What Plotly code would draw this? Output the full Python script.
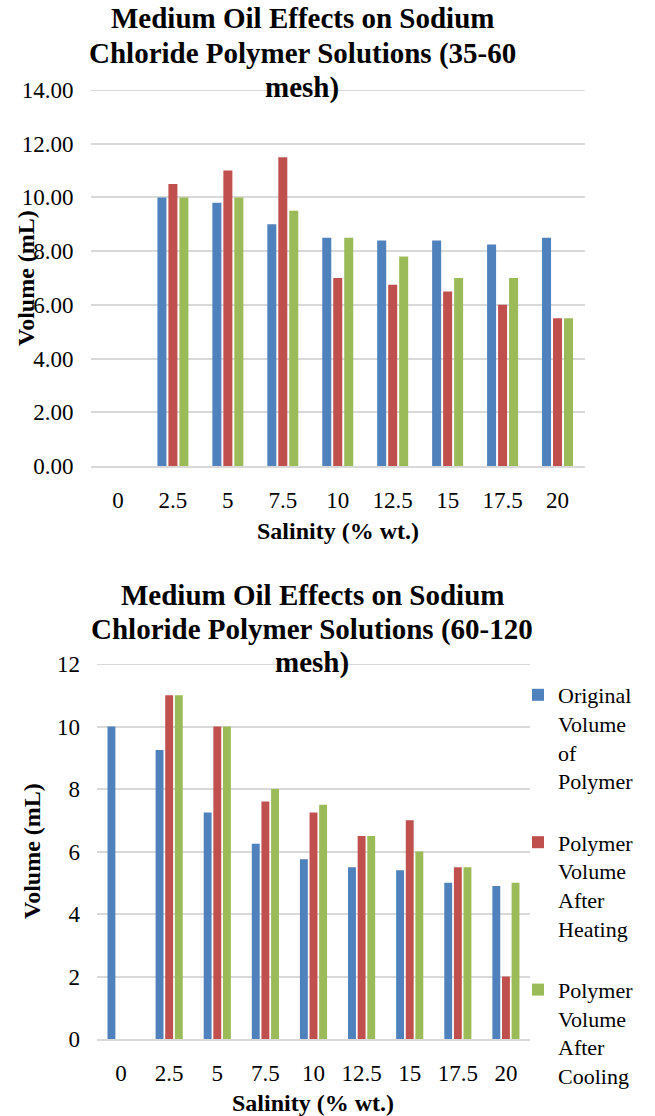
import plotly.graph_objects as go

W, H = 655, 1116

salinity = ["0", "2.5", "5", "7.5", "10", "12.5", "15", "17.5", "20"]
series_names = ["Original<br>Volume<br>of<br>Polymer",
                "Polymer<br>Volume<br>After<br>Heating",
                "Polymer<br>Volume<br>After<br>Cooling"]
colors = ["#4F81BD", "#C0504D", "#9BBB59"]

# 35-60 mesh
top_original = [None, 10.0, 9.8, 9.0, 8.5, 8.4, 8.4, 8.25, 8.5]
top_heating = [None, 10.5, 11.0, 11.5, 7.0, 6.75, 6.5, 6.0, 5.5]
top_cooling = [None, 10.0, 10.0, 9.5, 8.5, 7.8, 7.0, 7.0, 5.5]
top_ymax = 14

# 60-120 mesh
bot_original = [10.0, 9.25, 7.25, 6.25, 5.75, 5.5, 5.4, 5.0, 4.9]
bot_heating = [None, 11.0, 10.0, 7.6, 7.25, 6.5, 7.0, 5.5, 2.0]
bot_cooling = [None, 11.0, 10.0, 8.0, 7.5, 6.5, 6.0, 5.5, 5.0]
bot_ymax = 12

top_title_lines = ["Medium Oil Effects on Sodium",
                   "Chloride Polymer Solutions (35-60",
                   "mesh)"]
bot_title_lines = ["Medium Oil Effects on Sodium",
                   "Chloride Polymer Solutions (60-120",
                   "mesh)"]
x_title = "Salinity (% wt.)"
y_title = "Volume (mL)"

FONT = "Liberation Serif"

def px(x):
    return x / W

def py(y):
    return 1 - y / H

fig = go.Figure()

for vals, name, col in zip([top_original, top_heating, top_cooling], series_names, colors):
    fig.add_trace(go.Bar(x=salinity, y=vals, name=name, marker=dict(color=col, line=dict(width=0)),
                         xaxis="x", yaxis="y", showlegend=False, legendgroup=name + "t"))

for vals, name, col in zip([bot_original, bot_heating, bot_cooling], series_names, colors):
    fig.add_trace(go.Bar(x=salinity, y=vals, name=name, marker=dict(color=col, line=dict(width=0)),
                         xaxis="x2", yaxis="y2", showlegend=True, legendgroup=name))

grid = "#d9d9d9"
tickfont = dict(family=FONT, size=23, color="#000000")

common_x = dict(type="category", showgrid=False, showline=True, linecolor=grid, linewidth=2,
                ticks="", tickfont=tickfont, ticklabelstandoff=12, zeroline=False,
                categoryorder="array", categoryarray=salinity, automargin=False)
common_y = dict(showgrid=True, gridcolor=grid, gridwidth=2, showline=False, ticks="",
                tickfont=tickfont, zeroline=False, dtick=2, ticklabelstandoff=16, automargin=False)

annotations = []
titlefont = dict(family=FONT, size=29, color="#000000", weight="bold")
for t, yc in zip(top_title_lines, [18, 53, 88]):
    annotations.append(dict(text=t, x=px(302), y=py(yc), xref="paper", yref="paper",
                            xanchor="center", yanchor="middle", showarrow=False, font=titlefont))
for t, yc in zip(bot_title_lines, [595, 629, 662]):
    annotations.append(dict(text=t, x=px(312), y=py(yc), xref="paper", yref="paper",
                            xanchor="center", yanchor="middle", showarrow=False, font=titlefont))
axfont = dict(family=FONT, size=24, color="#000000", weight="bold")
annotations.append(dict(text=x_title, x=px(338), y=py(531), xref="paper", yref="paper",
                        xanchor="center", yanchor="middle", showarrow=False, font=axfont))
annotations.append(dict(text=x_title, x=px(313), y=py(1103), xref="paper", yref="paper",
                        xanchor="center", yanchor="middle", showarrow=False, font=axfont))
annotations.append(dict(text=y_title, x=px(26), y=py(278), xref="paper", yref="paper",
                        xanchor="center", yanchor="middle", showarrow=False, font=axfont,
                        textangle=-90))
annotations.append(dict(text=y_title, x=px(32), y=py(851), xref="paper", yref="paper",
                        xanchor="center", yanchor="middle", showarrow=False, font=axfont,
                        textangle=-90))

# top gridlines at the range end (plotly clips grid lines at the axis ends)
shapes = [
    dict(type="line", xref="x domain", yref="y", x0=0, x1=1, y0=top_ymax, y1=top_ymax,
         line=dict(color=grid, width=2), layer="below"),
    dict(type="line", xref="x2 domain", yref="y2", x0=0, x1=1, y0=bot_ymax, y1=bot_ymax,
         line=dict(color=grid, width=2), layer="below"),
]

fig.update_layout(
    template="none",
    width=W, height=H, autosize=False,
    margin=dict(l=0, r=0, t=0, b=0),
    paper_bgcolor="white", plot_bgcolor="white",
    barmode="group", bargap=0.4, bargroupgap=0.18,
    font=dict(family=FONT, color="#000000"),
    xaxis=dict(domain=[px(90.5), px(585)], anchor="y", **common_x),
    yaxis=dict(domain=[py(466), py(90)], anchor="x", range=[0, top_ymax], tickformat=".2f", **common_y),
    xaxis2=dict(domain=[px(97), px(530)], anchor="y2", **common_x),
    yaxis2=dict(domain=[py(1039), py(664)], anchor="x2", range=[0, bot_ymax], tickformat="d", **common_y),
    legend=dict(x=px(518), y=py(674), xanchor="left", yanchor="top", valign="top",
                font=dict(family=FONT, size=22, color="#000000"),
                tracegroupgap=30, bgcolor="rgba(0,0,0,0)", traceorder="grouped"),
    annotations=annotations,
    shapes=shapes,
)

fig.write_html("out.html")
